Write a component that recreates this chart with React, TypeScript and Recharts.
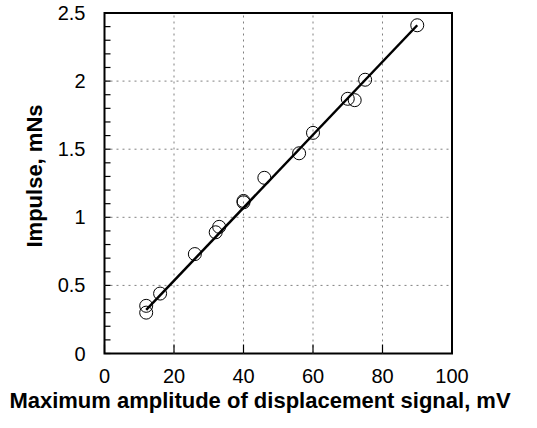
import React from 'react';
import {
  ComposedChart,
  Scatter,
  Line,
  XAxis,
  YAxis,
  ReferenceLine,
  ReferenceArea,
  Label,
} from 'recharts';

// measured points: max displacement amplitude (mV) vs impulse (mNs)
const amplitudeMv = [12, 12, 16, 26, 32, 33, 40, 40, 46, 56, 60, 70, 72, 75, 90];
const impulseMns = [0.35, 0.3, 0.44, 0.73, 0.89, 0.93, 1.11, 1.12, 1.29, 1.47, 1.62, 1.87, 1.86, 2.01, 2.41];

// least squares fit end points
const fitX = [12, 90];
const fitY = [0.32, 2.41];

const xTicks = [0, 20, 40, 60, 80, 100];
const xGrid = [20, 40, 60, 80];
const yTicks = [0, 0.1, 0.2, 0.3, 0.4, 0.5, 0.6, 0.7, 0.8, 0.9, 1, 1.1, 1.2, 1.3, 1.4, 1.5, 1.6, 1.7, 1.8, 1.9, 2, 2.1, 2.2, 2.3, 2.4, 2.5];
const yLabels = [0, 0.5, 1, 1.5, 2, 2.5];
const yGrid = [0.5, 1, 1.5, 2];

const points = amplitudeMv.map((x, i) => ({ x, y: impulseMns[i] }));
const fitLine = fitX.map((x, i) => ({ x, y: fitY[i] }));

const FONT = '"Liberation Sans", Arial, sans-serif';

const isMajorY = (v: number) => yLabels.some((m) => Math.abs(m - v) < 1e-6);

const LeftTick = (props: any) => {
  const { x, y, payload } = props;
  return (
    <g>
      <line x1={x} y1={y} x2={x + 6} y2={y} stroke="#000" strokeWidth={1.2} />
      {isMajorY(payload.value) && (
        <text x={x - 19} y={y + 7} textAnchor="end" fontSize={20} fontFamily={FONT} fill="#000">
          {payload.value}
        </text>
      )}
    </g>
  );
};

const RightTick = (props: any) => {
  const { x, y } = props;
  return <line x1={x} y1={y} x2={x - 6} y2={y} stroke="#000" strokeWidth={1.2} />;
};

const BottomTick = (props: any) => {
  const { x, y, payload } = props;
  return (
    <g>
      <line x1={x} y1={y} x2={x} y2={y - 9} stroke="#000" strokeWidth={1.2} />
      <text x={x} y={y + 29} textAnchor="middle" fontSize={20} fontFamily={FONT} fill="#000">
        {payload.value}
      </text>
    </g>
  );
};

const TopTick = (props: any) => {
  const { x, y } = props;
  return <line x1={x} y1={y} x2={x} y2={y + 9} stroke="#000" strokeWidth={1.2} />;
};

const Circle = (props: any) => {
  const { cx, cy } = props;
  return <circle cx={cx} cy={cy} r={6.5} fill="none" stroke="#000" strokeWidth={1} />;
};

export default function App() {
  return (
    <div style={{ position: 'absolute', left: 0, top: 0, background: '#fff' }}>
      <ComposedChart
        width={537}
        height={428}
        margin={{ top: 13, right: 85, bottom: 0, left: 0 }}
        style={{ fontFamily: FONT }}
      >
        <XAxis
          dataKey="x"
          type="number"
          domain={[0, 100]}
          ticks={xTicks}
          height={74.5}
          tickSize={0}
          tickMargin={0}
          tickLine={false}
          axisLine={false}
          tick={<BottomTick />}
          interval={0}
        >
          <Label
            content={() => (
              <text x={260} y={408} textAnchor="middle" fontSize={22} fontWeight="bold" fontFamily={FONT} fill="#000">
                Maximum amplitude of displacement signal, mV
              </text>
            )}
          />
        </XAxis>
        <XAxis
          xAxisId="t"
          orientation="top"
          dataKey="x"
          type="number"
          domain={[0, 100]}
          ticks={xTicks}
          height={0}
          tickSize={0}
          tickMargin={0}
          tickLine={false}
          axisLine={false}
          tick={<TopTick />}
          interval={0}
        />
        <YAxis
          dataKey="y"
          type="number"
          domain={[0, 2.5]}
          ticks={yTicks}
          width={104.5}
          tickSize={0}
          tickMargin={0}
          tickLine={false}
          axisLine={false}
          tick={<LeftTick />}
          interval={0}
        >
          <Label
            content={() => (
              <text
                x={42}
                y={176}
                transform="rotate(-90 42 176)"
                textAnchor="middle"
                fontSize={22}
                fontWeight="bold"
                fontFamily={FONT}
                fill="#000"
              >
                Impulse, mNs
              </text>
            )}
          />
        </YAxis>
        <YAxis
          yAxisId="r"
          orientation="right"
          dataKey="y"
          type="number"
          domain={[0, 2.5]}
          ticks={yTicks}
          width={0}
          tickSize={0}
          tickMargin={0}
          tickLine={false}
          axisLine={false}
          tick={<RightTick />}
          interval={0}
        />
        {xGrid.map((v) => (
          <ReferenceLine key={`gx${v}`} x={v} stroke="#808080" strokeDasharray="2 4" />
        ))}
        {yGrid.map((v) => (
          <ReferenceLine key={`gy${v}`} y={v} stroke="#808080" strokeDasharray="2 4" />
        ))}
        <ReferenceArea x1={0} x2={100} y1={0} y2={2.5} fill="none" stroke="#000" strokeWidth={2} />
        <Line
          data={fitLine}
          dataKey="y"
          type="linear"
          stroke="#000"
          strokeWidth={2.5}
          dot={false}
          activeDot={false}
          isAnimationActive={false}
        />
        <Scatter data={points} dataKey="y" shape={<Circle />} isAnimationActive={false} />
      </ComposedChart>
    </div>
  );
}
